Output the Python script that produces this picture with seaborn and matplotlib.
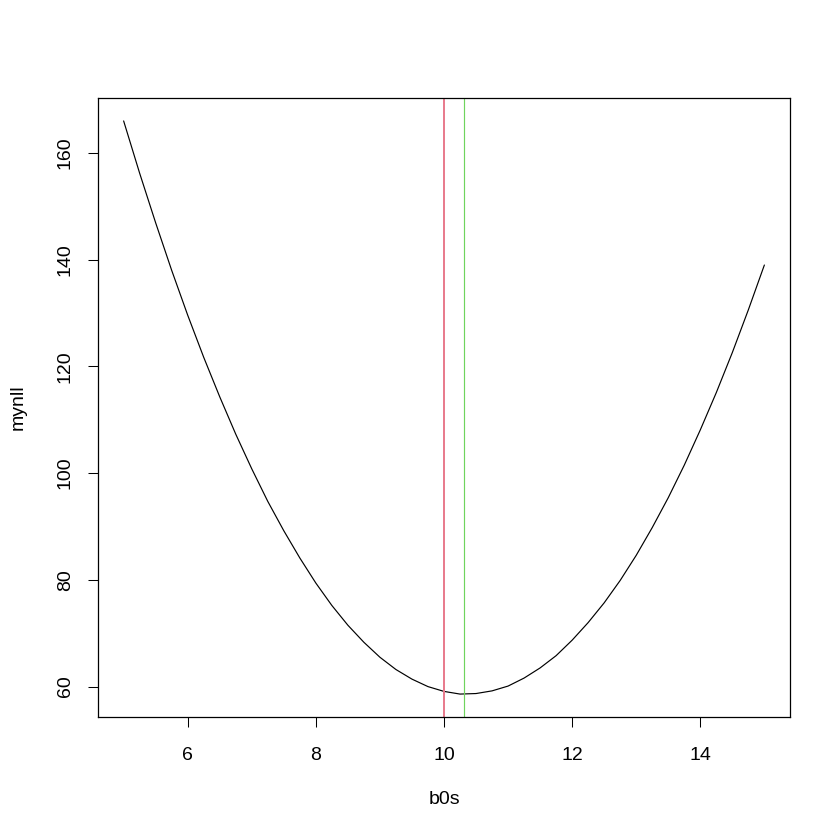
import numpy as np
import pandas as pd
import matplotlib
matplotlib.use("Agg")
import matplotlib.pyplot as plt
import seaborn as sns

# values
b0s = [5.00, 5.25, 5.50, 5.75, 6.00, 6.25, 6.50, 6.75, 7.00, 7.25,
       7.50, 7.75, 8.00, 8.25, 8.50, 8.75, 9.00, 9.25, 9.50, 9.75,
       10.00, 10.25, 10.50, 10.75, 11.00, 11.25, 11.50, 11.75, 12.00, 12.25,
       12.50, 12.75, 13.00, 13.25, 13.50, 13.75, 14.00, 14.25, 14.50, 14.75,
       15.00]
mynll = [166.0, 156.2, 146.9, 138.0, 129.6, 121.7, 114.3, 107.3, 100.8, 94.7,
         89.2, 84.1, 79.4, 75.2, 71.5, 68.3, 65.5, 63.2, 61.4, 60.0,
         59.1, 58.6, 58.7, 59.2, 60.1, 61.6, 63.5, 65.8, 68.7, 72.0,
         75.7, 79.9, 84.6, 89.8, 95.4, 101.5, 108.1, 115.1, 122.6, 130.6,
         139.0]
true_b0 = 10.0
mle_b0 = 10.31
x_ticks = [6, 8, 10, 12, 14]
y_ticks = [60, 80, 100, 120, 140, 160]

df = pd.DataFrame({"b0s": b0s, "mynll": mynll})

sns.set_style("white")
plt.rcParams['font.family'] = ['Liberation Sans', 'DejaVu Sans']

fig = plt.figure(figsize=(8.4, 8.4), dpi=100)
ax = fig.add_axes([98/840, 1 - 717/840, 692/840, 619/840])

sns.lineplot(data=df, x="b0s", y="mynll", color="black", lw=0.85, ax=ax)
ax.axvline(true_b0, color="#E8798B", lw=1.4)
ax.axvline(mle_b0, color="#6FD45E", lw=0.85)

# R style axis ranges (4% padding)
xr = max(b0s) - min(b0s)
yr = max(mynll) - min(mynll)
ax.set_xlim(min(b0s) - 0.04 * xr, max(b0s) + 0.04 * xr)
ax.set_ylim(min(mynll) - 0.04 * yr, max(mynll) + 0.04 * yr)

ax.set_xticks(x_ticks)
ax.set_yticks(y_ticks)
ax.tick_params(axis="both", direction="out", length=7.5, width=0.75,
               color="black", labelcolor="black", labelsize=14,
               bottom=True, left=True)
ax.tick_params(axis="x", pad=14)
ax.tick_params(axis="y", pad=10)
plt.setp(ax.get_yticklabels(), rotation=90, va="center")

for s in ax.spines.values():
    s.set_visible(True)
    s.set_color("black")
    s.set_linewidth(0.9)

ax.set_xlabel("b0s", fontsize=14, color="black")
ax.set_ylabel("mynll", fontsize=14, color="black")
ax.xaxis.set_label_coords(0.5, -83/619)
ax.yaxis.set_label_coords(-80/692, 0.5)
ax.xaxis.label.set_va("center")
ax.yaxis.label.set_va("center")

fig.savefig("out.png", dpi=100, facecolor="white")
